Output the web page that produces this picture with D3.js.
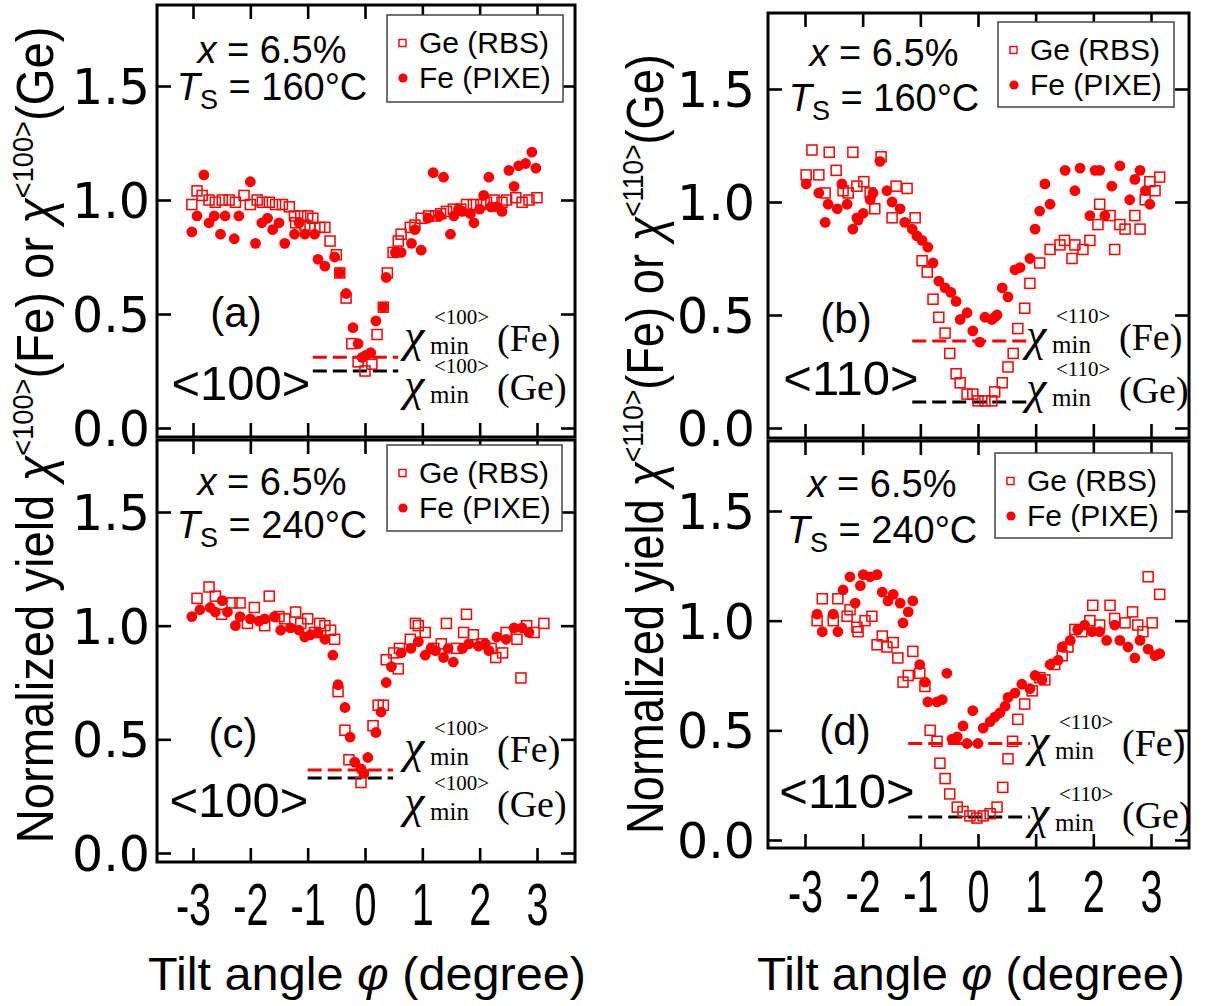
<!DOCTYPE html>
<html><head><meta charset="utf-8">
<script src="https://cdn.jsdelivr.net/npm/d3@7"></script>
<style>body{margin:0;background:#fff}svg{display:block}</style>
</head><body>
<svg id="chart" width="1211" height="1006"></svg>
<script>
// ---------- data ----------
const xTicks = [-3, -2, -1, 0, 1, 2, 3];
const yTicks = [0, 0.5, 1.0, 1.5];
const legendNames = ["Ge (RBS)", "Fe (PIXE)"];

// (a) <100>, 160°C
const geA = [[-3.02,0.98],[-2.93,1.04],[-2.84,1.02],[-2.72,1.0],[-2.61,0.99],[-2.49,1.0],[-2.37,1.0],[-2.26,0.99],[-2.11,1.02],[-2.0,0.98],[-1.88,1.0],[-1.79,0.99],[-1.67,0.99],[-1.56,0.98],[-1.44,0.98],[-1.32,0.97],[-1.23,0.93],[-1.21,0.9],[-1.12,0.93],[-1.05,0.89],[-1.0,0.93],[-0.96,0.88],[-0.91,0.92],[-0.79,0.88],[-0.7,0.88],[-0.61,0.82],[-0.5,0.76],[-0.44,0.68],[-0.33,0.57],[-0.23,0.37],[-0.12,0.29],[0.0,0.25],[0.12,0.28],[0.21,0.41],[0.32,0.53],[0.39,0.68],[0.49,0.77],[0.58,0.82],[0.63,0.85],[0.79,0.88],[0.87,0.89],[0.98,0.92],[1.11,0.93],[1.23,0.93],[1.32,0.94],[1.42,0.95],[1.54,0.96],[1.67,0.96],[1.77,0.98],[1.89,0.98],[2.02,0.98],[2.12,0.99],[2.25,1.0],[2.39,0.99],[2.47,1.0],[2.63,1.01],[2.74,0.99],[2.86,1.0],[3.0,1.01]];
const feA = [[-3.02,0.86],[-2.93,0.93],[-2.81,1.11],[-2.72,0.9],[-2.63,0.93],[-2.52,0.85],[-2.44,0.93],[-2.28,0.83],[-2.2,0.93],[-2.0,1.08],[-1.91,0.81],[-1.8,0.9],[-1.7,0.92],[-1.61,0.87],[-1.5,0.9],[-1.4,0.81],[-1.23,0.85],[-1.15,0.9],[-1.05,0.85],[-0.88,0.85],[-0.82,0.74],[-0.7,0.71],[-0.53,0.75],[-0.44,0.68],[-0.33,0.59],[-0.21,0.44],[-0.12,0.37],[-0.05,0.31],[0.02,0.32],[0.1,0.33],[0.19,0.47],[0.32,0.53],[0.37,0.66],[0.53,0.77],[0.63,0.77],[0.81,0.81],[0.87,0.87],[0.98,0.78],[1.1,0.92],[1.19,1.12],[1.3,0.93],[1.37,1.1],[1.49,0.85],[1.55,0.93],[1.63,0.96],[1.7,0.95],[1.84,0.94],[1.9,0.9],[2.0,0.96],[2.07,1.02],[2.16,1.1],[2.2,0.97],[2.3,0.97],[2.39,0.95],[2.51,1.13],[2.6,1.06],[2.68,1.15],[2.8,1.16],[2.91,1.21],[2.98,1.14]];
const chiA = [0.31, 0.25];        // chi_min Fe, Ge
const spanA = [-0.91, 0.58];

// (b) <110>, 160°C
const geB = [[-2.98,1.12],[-2.88,1.23],[-2.76,1.12],[-2.65,1.04],[-2.58,1.22],[-2.46,1.14],[-2.34,1.05],[-2.25,1.04],[-2.17,1.22],[-2.1,1.07],[-1.98,1.09],[-1.87,1.04],[-1.79,0.97],[-1.68,1.2],[-1.49,0.93],[-1.42,1.07],[-1.23,1.06],[-1.09,0.93],[-0.97,0.74],[-0.88,0.69],[-0.78,0.57],[-0.68,0.49],[-0.57,0.42],[-0.49,0.33],[-0.38,0.24],[-0.31,0.2],[-0.19,0.15],[-0.09,0.15],[0.0,0.12],[0.12,0.12],[0.24,0.12],[0.29,0.16],[0.42,0.2],[0.52,0.27],[0.61,0.33],[0.69,0.44],[0.81,0.53],[0.9,0.64],[1.07,0.73],[1.25,0.79],[1.42,0.81],[1.5,0.83],[1.63,0.75],[1.68,0.81],[1.82,0.79],[1.94,0.83],[2.08,0.9],[2.11,0.99],[2.29,0.94],[2.37,0.79],[2.46,0.9],[2.55,0.88],[2.72,0.94],[2.81,0.88],[2.9,1.01],[2.98,1.09],[3.07,1.05],[3.15,1.11]];
const feB = [[-2.98,1.08],[-2.76,1.04],[-2.65,0.91],[-2.6,0.99],[-2.44,0.97],[-2.36,1.08],[-2.27,0.99],[-2.17,0.88],[-2.1,0.93],[-2.08,0.92],[-1.99,0.95],[-1.87,1.01],[-1.82,1.04],[-1.7,1.18],[-1.58,1.05],[-1.49,1.0],[-1.35,0.97],[-1.27,0.91],[-1.14,0.88],[-1.06,0.85],[-0.97,0.83],[-0.87,0.8],[-0.78,0.73],[-0.68,0.65],[-0.57,0.62],[-0.47,0.6],[-0.38,0.56],[-0.31,0.48],[-0.19,0.51],[-0.09,0.43],[0.03,0.38],[0.12,0.49],[0.24,0.48],[0.29,0.49],[0.33,0.5],[0.42,0.62],[0.52,0.58],[0.64,0.7],[0.73,0.71],[0.9,0.75],[0.99,0.88],[1.07,0.96],[1.16,1.08],[1.25,0.99],[1.51,1.14],[1.68,1.05],[1.77,1.15],[1.94,0.94],[2.03,1.14],[2.11,1.14],[2.2,0.94],[2.32,1.07],[2.46,1.16],[2.63,1.01],[2.72,1.1],[2.81,1.14],[2.9,1.05],[2.98,0.99]];
const chiB = [0.385, 0.115];
const spanB = [-1.14, 0.9];

// (c) <100>, 240°C
const geC = [[-2.93,1.12],[-2.72,1.17],[-2.61,1.13],[-2.5,1.05],[-2.32,1.1],[-2.18,1.1],[-2.05,1.01],[-1.93,1.08],[-1.75,1.0],[-1.67,1.13],[-1.5,1.04],[-1.4,1.03],[-1.21,1.06],[-1.12,1.01],[-1.0,1.03],[-0.88,0.97],[-0.79,1.01],[-0.7,1.0],[-0.6,0.98],[-0.53,0.94],[-0.47,0.71],[-0.35,0.54],[-0.28,0.41],[-0.07,0.31],[0.14,0.56],[0.23,0.65],[0.32,0.65],[0.37,0.85],[0.5,0.88],[0.58,0.81],[0.6,0.9],[0.79,0.94],[0.88,1.01],[0.93,1.0],[1.05,0.97],[1.2,0.9],[1.33,0.92],[1.42,1.01],[1.6,0.9],[1.72,0.97],[1.77,1.05],[1.89,0.96],[2.04,0.92],[2.2,0.9],[2.28,0.86],[2.4,0.88],[2.46,0.97],[2.65,0.94],[2.72,0.77],[2.82,1.0],[2.95,0.97],[3.12,1.01]];
const feC = [[-3.02,1.04],[-2.88,1.07],[-2.7,1.08],[-2.61,1.06],[-2.49,1.11],[-2.4,1.06],[-2.26,1.0],[-2.18,1.04],[-2.0,1.03],[-1.85,1.02],[-1.75,1.03],[-1.58,1.04],[-1.47,0.98],[-1.3,0.99],[-1.15,0.98],[-1.05,0.95],[-0.95,0.96],[-0.82,0.97],[-0.7,0.94],[-0.56,0.87],[-0.47,0.74],[-0.35,0.64],[-0.26,0.51],[-0.18,0.4],[-0.07,0.37],[-0.02,0.35],[0.05,0.42],[0.19,0.53],[0.28,0.62],[0.37,0.75],[0.46,0.82],[0.63,0.88],[0.8,0.9],[0.93,0.93],[1.05,0.87],[1.15,0.9],[1.23,0.89],[1.37,0.86],[1.45,0.9],[1.54,0.84],[1.7,0.9],[1.81,0.92],[1.98,0.91],[2.1,0.92],[2.16,0.89],[2.3,0.95],[2.46,0.94],[2.6,0.99],[2.74,0.99],[2.86,0.97]];
const chiC = [0.365, 0.33];
const spanC = [-1.0, 0.49];

// (d) <110>, 240°C
const geD = [[-2.79,1.0],[-2.7,1.1],[-2.51,1.0],[-2.43,1.1],[-2.27,1.02],[-2.22,1.05],[-2.1,0.97],[-2.08,0.95],[-1.96,1.0],[-1.84,1.02],[-1.75,0.89],[-1.66,0.93],[-1.58,0.88],[-1.47,0.9],[-1.39,0.83],[-1.3,0.72],[-1.21,0.75],[-1.13,0.86],[-1.01,0.76],[-0.92,0.7],[-0.83,0.5],[-0.71,0.45],[-0.66,0.35],[-0.57,0.28],[-0.49,0.21],[-0.36,0.15],[-0.26,0.13],[-0.14,0.11],[-0.02,0.1],[0.09,0.11],[0.21,0.12],[0.33,0.15],[0.43,0.24],[0.52,0.37],[0.6,0.45],[0.69,0.55],[0.81,0.62],[0.94,0.68],[1.07,0.74],[1.16,0.73],[1.33,0.8],[1.46,0.84],[1.56,0.88],[1.68,0.96],[1.8,0.95],[1.94,1.0],[1.99,1.07],[2.11,0.98],[2.29,1.07],[2.37,1.01],[2.55,0.99],[2.68,1.04],[2.77,0.98],[2.86,0.95],[2.95,1.2],[3.02,0.99],[3.15,1.12]];
const feD = [[-2.79,1.03],[-2.7,0.95],[-2.51,1.03],[-2.43,0.95],[-2.34,1.14],[-2.22,1.2],[-2.13,1.08],[-2.04,1.16],[-1.99,1.21],[-1.87,1.2],[-1.75,1.21],[-1.66,1.13],[-1.56,1.09],[-1.47,1.12],[-1.35,1.08],[-1.3,0.99],[-1.21,1.04],[-1.13,1.09],[-1.01,0.8],[-0.92,0.72],[-0.87,0.63],[-0.71,0.63],[-0.62,0.64],[-0.54,0.76],[-0.45,0.46],[-0.36,0.47],[-0.26,0.52],[-0.19,0.44],[-0.09,0.59],[0.0,0.44],[0.09,0.51],[0.21,0.54],[0.29,0.56],[0.38,0.58],[0.47,0.61],[0.52,0.65],[0.64,0.67],[0.76,0.71],[0.9,0.69],[0.99,0.75],[1.11,0.73],[1.25,0.8],[1.39,0.82],[1.46,0.88],[1.6,0.91],[1.73,0.96],[1.85,0.98],[1.98,0.95],[2.11,0.95],[2.23,0.91],[2.37,0.98],[2.46,0.91],[2.6,0.88],[2.72,0.83],[2.81,0.91],[2.95,0.87],[3.07,0.84],[3.15,0.85]];
const chiD = [0.44, 0.105];
const spanD = [-1.21, 0.9];

// ---------- layout ----------
const RED = "#ff0000";
const SANS = "'Liberation Sans', Arial, sans-serif";
const SERIF = "'Liberation Serif', 'Times New Roman', serif";
const panels = [
  {ge: geA, fe: feA, chi: chiA, span: spanA, dir: "<100>", tag: "(a)", temp: "160",
   L: 157, R: 575, T: 5, B: 437, xr: [193, 537], yr: [428, 86], yLab: true, xLab: false, yPad: 7,
   info: [272, 63, 100], leg: [387, 15, 176, 87], tagPos: [236, 327], dirPos: [241, 400], chiPos: [405, 351, 400]},
  {ge: geB, fe: feB, chi: chiB, span: spanB, dir: "<110>", tag: "(b)", temp: "160",
   L: 768, R: 1189, T: 13, B: 438, xr: [805, 1151], yr: [428, 89], yLab: true, xLab: false, yPad: 13,
   info: [884, 66, 111], leg: [998, 22, 176, 85], tagPos: [846, 333], dirPos: [851, 395], chiPos: [1027, 350, 403]},
  {ge: geC, fe: feC, chi: chiC, span: spanC, dir: "<100>", tag: "(c)", temp: "240",
   L: 157, R: 575, T: 440, B: 862, xr: [193, 537], yr: [853, 512], yLab: true, xLab: true, yPad: 7, xLabBase: 925,
   info: [272, 495, 538], leg: [387, 445, 175, 86], tagPos: [233, 748], dirPos: [239, 817], chiPos: [405, 762, 817]},
  {ge: geD, fe: feD, chi: chiD, span: spanD, dir: "<110>", tag: "(d)", temp: "240",
   L: 768, R: 1189, T: 441, B: 848, xr: [805, 1151], yr: [840, 511], yLab: true, xLab: true, yPad: 13, xLabBase: 912,
   info: [882, 497, 543], leg: [995, 453, 177, 85], tagPos: [845, 745], dirPos: [847, 808], chiPos: [1030, 756, 828]}
];

const svg = d3.select("#chart");
const TICK = 14;

function chiLabel(g, x0, base, sup, el) {
  const t = g.append("text").attr("font-family", SERIF).attr("fill", "#000");
  t.append("tspan").attr("x", x0 - 1).attr("y", base).attr("font-size", 46).attr("font-style", "italic").text("χ");
  t.append("tspan").attr("x", x0 + 25).attr("y", base + 3).attr("font-size", 25).text("min");
  t.append("tspan").attr("x", x0 + 29).attr("y", base - 27).attr("font-size", 21).text(sup);
  t.append("tspan").attr("x", x0 + 92).attr("y", base).attr("font-size", 38).text("(" + el + ")");
}

panels.forEach(p => {
  const x = d3.scaleLinear().domain([-3, 3]).range(p.xr);
  const y = d3.scaleLinear().domain([0, 1.5]).range(p.yr);
  const g = svg.append("g");

  const styleAxis = sel => {
    sel.select(".domain").remove();
    sel.selectAll(".tick line").attr("stroke", "#000").attr("stroke-width", 2.6);
  };
  const left = g.append("g").attr("transform", `translate(${p.L},0)`)
    .call(d3.axisLeft(y).tickValues(yTicks).tickSize(-TICK).tickPadding(p.yPad)
      .tickFormat(p.yLab ? d3.format(".1f") : () => ""));
  styleAxis(left);
  left.selectAll("text").attr("font-family", "'DejaVu Sans', sans-serif").attr("font-size", 49)
    .attr("fill", "#000").attr("dy", "0.36em");
  const right = g.append("g").attr("transform", `translate(${p.R},0)`)
    .call(d3.axisRight(y).tickValues(yTicks).tickSize(-TICK).tickFormat(() => ""));
  styleAxis(right);
  const top = g.append("g").attr("transform", `translate(0,${p.T})`)
    .call(d3.axisTop(x).tickValues(xTicks).tickSize(-TICK).tickFormat(() => ""));
  styleAxis(top);
  const bottom = g.append("g").attr("transform", `translate(0,${p.B})`)
    .call(d3.axisBottom(x).tickValues(xTicks).tickSize(-TICK)
      .tickFormat(p.xLab ? d => String(d) : () => ""));
  styleAxis(bottom);
  if (p.xLab) {
    bottom.selectAll(".tick text").attr("font-family", SANS).attr("font-size", 60).attr("fill", "#000")
      .attr("y", p.xLabBase - p.B).attr("dy", 0).attr("transform", "scale(0.66,1)");
  }

  g.append("rect").attr("x", p.L).attr("y", p.T).attr("width", p.R - p.L).attr("height", p.B - p.T)
    .attr("fill", "none").attr("stroke", "#000").attr("stroke-width", 3);

  const dash = [[p.chi[0], RED], [p.chi[1], "#000"]];
  g.selectAll(".chi").data(dash).join("line")
    .attr("x1", x(p.span[0])).attr("x2", x(p.span[1]))
    .attr("y1", d => y(d[0])).attr("y2", d => y(d[0]))
    .attr("stroke", d => d[1]).attr("stroke-width", 3).attr("stroke-dasharray", "14,6");

  g.selectAll(".fe").data(p.fe).join("circle")
    .attr("cx", d => x(d[0])).attr("cy", d => y(d[1])).attr("r", 5.4).attr("fill", RED);
  g.selectAll(".ge").data(p.ge).join("rect")
    .attr("x", d => x(d[0]) - 5).attr("y", d => y(d[1]) - 5).attr("width", 10).attr("height", 10)
    .attr("fill", "none").attr("stroke", RED).attr("stroke-width", 1.5);

  const it = g.append("text").attr("font-family", SANS).attr("font-size", 38).attr("text-anchor", "middle").attr("fill", "#000");
  it.attr("x", p.info[0]).attr("y", p.info[1]);
  it.append("tspan").attr("font-style", "italic").text("x");
  it.append("tspan").text(" = 6.5%");
  const it2 = g.append("text").attr("font-family", SANS).attr("font-size", 38).attr("text-anchor", "middle").attr("fill", "#000")
    .attr("x", p.info[0]).attr("y", p.info[2]);
  it2.append("tspan").attr("font-style", "italic").text("T");
  it2.append("tspan").attr("font-size", 27).attr("dy", 9).text("S");
  it2.append("tspan").attr("dy", -9).text(" = " + p.temp + "°C");

  const lg = g.append("g").attr("transform", `translate(${p.leg[0]},${p.leg[1]})`);
  lg.append("rect").attr("width", p.leg[2]).attr("height", p.leg[3]).attr("fill", "#fff")
    .attr("stroke", "#444").attr("stroke-width", 1.5);
  lg.append("rect").attr("x", 12).attr("y", 24.5).attr("width", 7).attr("height", 7)
    .attr("fill", "none").attr("stroke", RED).attr("stroke-width", 1.4);
  lg.append("circle").attr("cx", 16).attr("cy", 63).attr("r", 4.6).attr("fill", RED);
  lg.selectAll(".lt").data(legendNames).join("text")
    .attr("x", 32).attr("y", (d, i) => 38 + i * 35)
    .attr("font-family", SANS).attr("font-size", 30).attr("fill", "#000").text(d => d);

  g.append("text").attr("x", p.tagPos[0]).attr("y", p.tagPos[1]).attr("text-anchor", "middle")
    .attr("font-family", SANS).attr("font-size", 42).attr("fill", "#000").text(p.tag);
  g.append("text").attr("x", p.dirPos[0]).attr("y", p.dirPos[1]).attr("text-anchor", "middle")
    .attr("font-family", SANS).attr("font-size", 49).attr("fill", "#000").text(p.dir);

  chiLabel(g, p.chiPos[0], p.chiPos[1], p.dir, "Fe");
  chiLabel(g, p.chiPos[0], p.chiPos[2], p.dir, "Ge");
});

function yTitle(cx, cy, len, dir) {
  const g = svg.append("g");
  const t = g.append("text").attr("font-family", SANS).attr("font-size", 52).attr("text-anchor", "middle").attr("fill", "#000");
  t.append("tspan").text("Normalized yield ");
  t.append("tspan").attr("font-style", "italic").text("χ");
  t.append("tspan").attr("font-size", 30).attr("dy", -20).text(dir);
  t.append("tspan").attr("dy", 20).text("(Fe) or ");
  t.append("tspan").attr("font-style", "italic").text("χ");
  t.append("tspan").attr("font-size", 30).attr("dy", -20).text(dir);
  t.append("tspan").attr("dy", 20).text("(Ge)");
  const w = t.node().getComputedTextLength();
  g.attr("transform", `translate(${cx},${cy}) rotate(-90) scale(${len / w},1)`);
}
yTitle(53, 435, 817, "<100>");
yTitle(663, 444, 780, "<110>");

function xTitle(cx, base, len) {
  const g = svg.append("g");
  const t = g.append("text").attr("font-family", SANS).attr("font-size", 46).attr("text-anchor", "middle").attr("fill", "#000");
  t.append("tspan").text("Tilt angle ");
  t.append("tspan").attr("font-style", "italic").text("φ");
  t.append("tspan").text(" (degree)");
  const w = t.node().getComputedTextLength();
  g.attr("transform", `translate(${cx},${base}) scale(${len / w},1)`);
}
xTitle(367, 990, 438);
xTitle(971, 990, 428);
</script>
</body></html>
